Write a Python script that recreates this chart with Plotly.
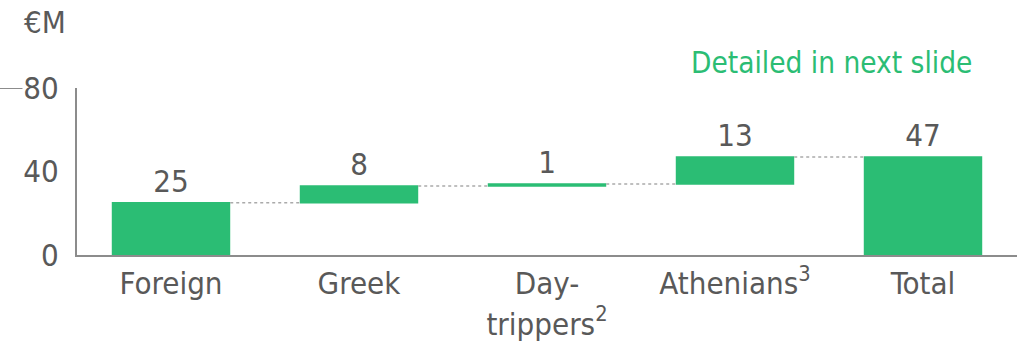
import plotly.graph_objects as go

categories = ["Foreign", "Greek", "Day-<br>trippers<sup>2</sup>", "Athenians<sup>3</sup>", "Total"]
values = [25, 8, 1, 13, 47]
measures = ["relative", "relative", "relative", "relative", "total"]
y_ticks = [0, 40, 80]

GREEN = "#2BBD74"
TEXT = "#595959"
AXIS = "#8C8C8C"
FONT = "DejaVu Sans Condensed, DejaVu Sans, sans-serif"
SIZE = 31

fig = go.Figure(go.Waterfall(
    x=categories,
    y=values,
    measure=measures,
    width=0.63,
    text=[str(v) for v in values],
    textposition="outside",
    textfont=dict(size=SIZE, color=TEXT, family=FONT),
    increasing=dict(marker=dict(color=GREEN)),
    totals=dict(marker=dict(color=GREEN)),
    decreasing=dict(marker=dict(color=GREEN)),
    connector=dict(line=dict(color="#AAAAAA", width=1.5, dash="dot")),
    cliponaxis=False,
))

fig.update_layout(
    width=1028, height=343,
    margin=dict(l=77, r=11, t=88, b=88),
    plot_bgcolor="white", paper_bgcolor="white",
    showlegend=False,
    font=dict(family=FONT, color=TEXT, size=SIZE),
    xaxis=dict(
        showline=True, linecolor=AXIS, linewidth=2, automargin=False,
        showgrid=False, ticks="", ticklabelstandoff=0,
        tickfont=dict(size=SIZE, color=TEXT),
    ),
    yaxis=dict(
        range=[0, 80], tickvals=y_ticks, automargin=False,
        showline=True, linecolor=AXIS, linewidth=2,
        showgrid=False, zeroline=False, ticks="", ticklabelstandoff=10,
        tickfont=dict(size=SIZE, color=TEXT),
    ),
    annotations=[
        dict(text="€M", xref="paper", yref="paper", x=-0.059, y=1.0,
             yshift=66, xanchor="left", yanchor="middle", showarrow=False,
             font=dict(size=SIZE, color=TEXT)),
        dict(text="Detailed in next slide", xref="paper", yref="paper",
             x=0.803, y=1.0, yshift=25, xanchor="center", yanchor="middle",
             showarrow=False, font=dict(size=29.5, color=GREEN)),
    ],
    shapes=[
        dict(type="line", xref="paper", yref="y", x0=-0.082, x1=-0.058,
             y0=80, y1=80, line=dict(color=AXIS, width=2)),
    ],
)

fig.write_html("out.html")
